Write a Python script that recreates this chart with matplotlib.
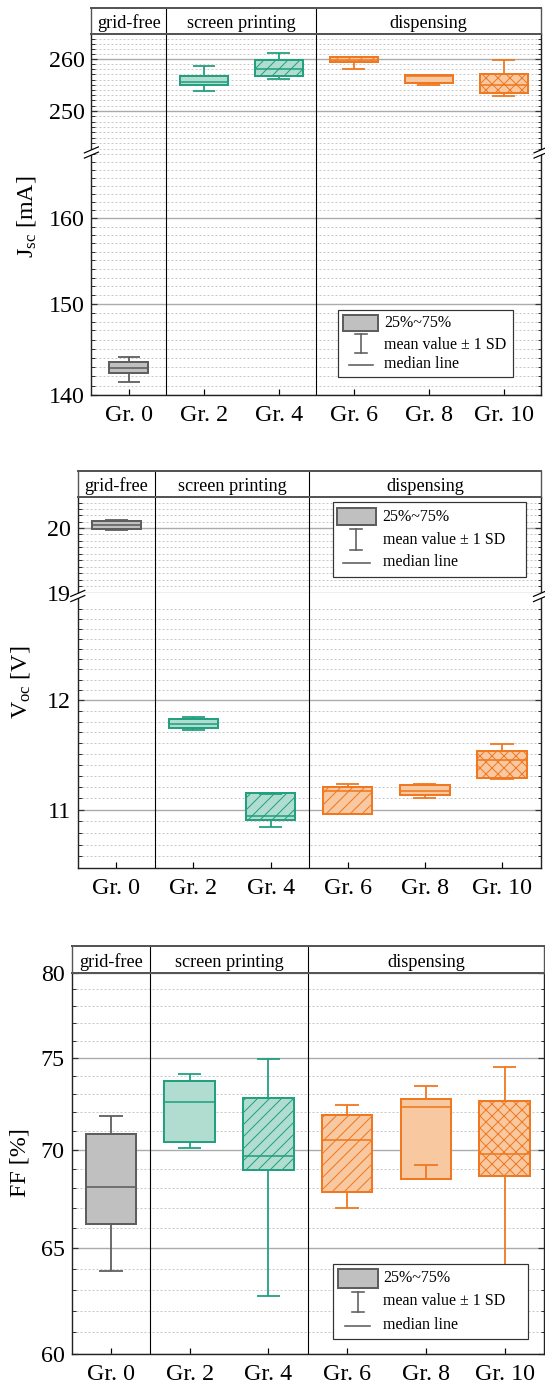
import matplotlib
matplotlib.use('Agg')
import matplotlib.pyplot as plt
from matplotlib.ticker import FixedLocator, FuncFormatter, NullFormatter
from matplotlib.patches import Rectangle, Polygon
import numpy as np

plt.rcParams['font.family'] = ['Liberation Serif', 'DejaVu Serif']
plt.rcParams['mathtext.fontset'] = 'custom'
plt.rcParams['mathtext.rm'] = 'Liberation Serif'
plt.rcParams['mathtext.it'] = 'Liberation Serif:italic'
plt.rcParams['hatch.linewidth'] = 1.0

# ---------------- data ----------------
groups = ['Gr. 0', 'Gr. 2', 'Gr. 4', 'Gr. 6', 'Gr. 8', 'Gr. 10']
sections = ['grid-free', 'screen printing', 'dispensing']
legend_labels = ['25%~75%', 'mean value \u00b1 1 SD', 'median line']

# Jsc [mA]
jsc_q1 = [142.4, 254.9, 256.6, 259.4, 255.3, 253.5]
jsc_med = [142.9, 255.5, 258.1, 259.8, 256.6, 254.9]
jsc_q3 = [143.5, 256.6, 259.7, 260.3, 256.8, 257.0]
jsc_lo = [141.4, 253.7, 256.1, 258.0, 255.0, 252.9]
jsc_hi = [144.1, 258.7, 261.2, 260.4, 256.8, 259.8]

# Voc [V]
voc_q1 = [19.99, 11.74, 10.91, 10.96, 11.127, 11.28]
voc_med = [20.04, 11.78, 10.95, 11.17, 11.162, 11.44]
voc_q3 = [20.105, 11.82, 11.15, 11.20, 11.216, 11.53]
voc_lo = [19.97, 11.72, 10.85, 10.96, 11.106, 11.27]
voc_hi = [20.13, 11.84, 11.14, 11.23, 11.225, 11.59]

# FF [%]
ff_q1 = [66.20, 70.39, 68.96, 67.83, 68.49, 68.62]
ff_med = [68.06, 72.58, 69.66, 70.51, 72.32, 69.76]
ff_q3 = [70.85, 73.75, 72.80, 71.88, 72.75, 72.61]
ff_lo = [63.91, 70.09, 62.68, 67.02, 69.21, 63.0]
ff_hi = [71.83, 74.14, 74.97, 72.42, 73.47, 74.51]

# ---------------- style ----------------
GRAY_E, GRAY_F = '#5e5e5e', '#c0c0c0'
TEAL_E, TEAL_F = '#22a080', '#b0ddd0'
ORNG_E, ORNG_F = '#f07820', '#f8c8a0'
edges = [GRAY_E, TEAL_E, TEAL_E, ORNG_E, ORNG_E, ORNG_E]
fills = [GRAY_F, TEAL_F, TEAL_F, ORNG_F, ORNG_F, ORNG_F]
hatches = [None, None, '//', '//', None, 'xx']
BOX_W = 0.64
CAP_W = 0.30
TICK_FS = 24
HEAD_FS = 18.3
LEG_FS = 16

W, H, DPI = 545, 1392, 72
fig = plt.figure(figsize=(W / DPI, H / DPI), dpi=DPI)


def px_axes(l, t, r, b, **kw):
    return fig.add_axes([l / W, 1 - b / H, (r - l) / W, (b - t) / H], **kw)


def fmt(v, p):
    return f'{v:g}'


def style_plot(ax, ylim, majors, minors, show_x, top_spine=True, bottom_spine=True):
    ax.set_yscale('log')
    ax.set_xlim(-0.5, 5.5)
    ax.set_ylim(*ylim)
    ax.yaxis.set_major_locator(FixedLocator(majors))
    ax.yaxis.set_major_formatter(FuncFormatter(fmt))
    ax.yaxis.set_minor_locator(FixedLocator(minors))
    ax.yaxis.set_minor_formatter(NullFormatter())
    ax.set_xticks(range(len(groups)))
    if show_x:
        ax.set_xticklabels(groups, fontsize=TICK_FS)
        ax.tick_params(axis='x', direction='in', length=6, width=1.2, pad=10, bottom=True, top=False)
    else:
        ax.tick_params(axis='x', bottom=False, top=False, labelbottom=False)
    ax.tick_params(axis='y', which='major', direction='in', length=6, width=1.2,
                   left=True, right=True, labelsize=TICK_FS, pad=7, color='#333333')
    ax.tick_params(axis='y', which='minor', direction='in', length=3.5, width=1.0,
                   left=True, right=True, color='#333333')
    ax.yaxis.grid(True, which='major', color='#ababab', lw=1.4, ls='-', zorder=0.5)
    ax.yaxis.grid(True, which='minor', color='#c8c8c8', lw=1.0, ls=(0, (2, 2)), zorder=0.5)
    ax.set_axisbelow(True)
    for s in ['left', 'right', 'bottom']:
        ax.spines[s].set_color('#222222')
        ax.spines[s].set_linewidth(1.4)
    ax.spines['top'].set_color('#555555')
    ax.spines['top'].set_linewidth(2.0)
    ax.spines['top'].set_visible(top_spine)
    ax.spines['bottom'].set_visible(bottom_spine)
    for xv in (0.5, 2.5):
        ax.axvline(xv, color='black', lw=1.1, zorder=1)


def draw_boxes(ax, q1, med, q3, lo, hi, widths):
    x = np.arange(len(groups))
    w = np.array(widths)
    for i in range(len(groups)):
        ax.bar(x[i], q3[i] - q1[i], bottom=q1[i], width=w[i], color=fills[i],
               edgecolor=edges[i], hatch=hatches[i], linewidth=2.0, zorder=3)
    ax.hlines(med, x - w / 2, x + w / 2, colors=edges, lw=1.6, zorder=4)
    ax.vlines(x, q3, hi, colors=edges, lw=1.8, zorder=4)
    ax.vlines(x, q1, lo, colors=edges, lw=1.8, zorder=4)
    ax.hlines(hi, x - CAP_W / 2, x + CAP_W / 2, colors=edges, lw=1.8, zorder=4)
    ax.hlines(lo, x - CAP_W / 2, x + CAP_W / 2, colors=edges, lw=1.8, zorder=4)


def header(l, t, r, b):
    hx = px_axes(l, t, r, b)
    hx.set_xlim(-0.5, 5.5)
    hx.set_ylim(0, 1)
    hx.set_xticks([])
    hx.set_yticks([])
    for s in hx.spines.values():
        s.set_color('#555555')
        s.set_linewidth(1.4)
    hx.spines['bottom'].set_linewidth(2.0)
    hx.spines['top'].set_linewidth(2.0)
    for xv in (0.5, 2.5):
        hx.axvline(xv, color='black', lw=1.1)
    for xc, txt in zip([0, 1.5, 4.0], sections):
        hx.text(xc, 0.22, txt, ha='center', va='baseline', fontsize=HEAD_FS)
    return hx


def ylabel(x, y, txt):
    fig.text(x / W, 1 - y / H, txt, rotation=90, ha='center', va='center', fontsize=TICK_FS)


# ---------------- panel 1: Jsc ----------------
L1, R1 = 91.4, 541.0
header(L1, 8.3, R1, 33.7)
a1u = px_axes(L1, 33.7, R1, 150.8)
style_plot(a1u, (242.6, 265.0), [250, 260], list(range(243, 265)), False, True, False)
draw_boxes(a1u, jsc_q1, jsc_med, jsc_q3, jsc_lo, jsc_hi, [0.52] + [BOX_W] * 5)
a1l = px_axes(L1, 150.8, R1, 395.0)
style_plot(a1l, (140.0, 168.4), [140, 150, 160], list(range(141, 169)), True, False, True)
draw_boxes(a1l, jsc_q1, jsc_med, jsc_q3, jsc_lo, jsc_hi, [0.52] + [BOX_W] * 5)
ylabel(26, 217, r'J$_{\rm sc}$ [mA]')

# ---------------- panel 2: Voc ----------------
L2, R2 = 77.8, 540.5
header(L2, 470.7, R2, 496.7)
a2u = px_axes(L2, 496.7, R2, 593.0)
style_plot(a2u, (19.0, 20.5), [19, 20], [round(19 + 0.1 * k, 1) for k in range(1, 15)], False, True, False)
draw_boxes(a2u, voc_q1, voc_med, voc_q3, voc_lo, voc_hi, [BOX_W] * 6)
a2l = px_axes(L2, 593.0, R2, 868.3)
style_plot(a2l, (10.5, 13.07), [11, 12], [round(10.5 + 0.1 * k, 1) for k in range(1, 25)], True, False, True)
draw_boxes(a2l, voc_q1, voc_med, voc_q3, voc_lo, voc_hi, [BOX_W] * 6)
ylabel(20, 682, r'V$_{\rm oc}$ [V]')

# ---------------- panel 3: FF ----------------
L3, R3 = 71.5, 544.0
header(L3, 945.7, R3, 972.7)
a3 = px_axes(L3, 972.7, R3, 1354.3)
style_plot(a3, (60.0, 80.0), [60, 65, 70, 75, 80], list(range(61, 80)), True, True, True)
draw_boxes(a3, ff_q1, ff_med, ff_q3, ff_lo, ff_hi, [BOX_W] * 6)
ylabel(20, 1163, 'FF [%]')

# ---------------- overlay: legends and axis breaks ----------------
ov = px_axes(0, 0, W, H, zorder=20)
ov.set_xlim(0, W)
ov.set_ylim(H, 0)
ov.axis('off')


def brk(x, y):
    dx, dy, g = 7, 3, 2.6
    ov.add_patch(Polygon([(x - dx, y + dy + g), (x + dx, y - dy + g), (x + dx, y - dy - g), (x - dx, y + dy - g)],
                         closed=True, facecolor='white', edgecolor='none'))
    ov.plot([x - dx, x + dx], [y + dy + g, y - dy + g], color='black', lw=1.2)
    ov.plot([x - dx, x + dx], [y + dy - g, y - dy - g], color='black', lw=1.2)


brk(L1, 152.5)
brk(R1, 152.5)
brk(L2, 596)
brk(R2, 596)


def legend(box, patch, tx, ty, ebx, eb, med):
    bl, bt, br, bb = box
    ov.add_patch(Rectangle((bl, bt), br - bl, bb - bt, facecolor='white', edgecolor='#333333', lw=1.2))
    pl, pt, pr, pb = patch
    ov.add_patch(Rectangle((pl, pt), pr - pl, pb - pt, facecolor=GRAY_F, edgecolor=GRAY_E, lw=2.0))
    ov.plot([ebx, ebx], eb, color=GRAY_E, lw=1.6)
    ov.plot([ebx - 6, ebx + 6], [eb[0], eb[0]], color=GRAY_E, lw=1.6)
    ov.plot([ebx - 6, ebx + 6], [eb[1], eb[1]], color=GRAY_E, lw=1.6)
    ov.plot(med[:2], [med[2], med[2]], color=GRAY_E, lw=1.6)
    for yy, lab in zip(ty, legend_labels):
        ov.text(tx, yy, lab, ha='left', va='center', fontsize=LEG_FS)


legend((338.2, 309.7, 513.4, 377.3), (343.4, 315.0, 378.2, 331.0), 384.1,
       [323.0, 344.7, 364.3], 361.1, (334.3, 352.7), (348.6, 373.0, 365.3))
legend((332.6, 502.3, 525.9, 577.3), (336.8, 507.7, 376.4, 525.3), 382.7,
       [517.3, 540.0, 562.3], 356.3, (529.3, 550.0), (343.4, 369.5, 563.3))
legend((333.0, 1264.3, 528.0, 1339.3), (337.9, 1269.3, 377.5, 1287.7), 383.4,
       [1278.0, 1301.0, 1324.7], 357.7, (1291.7, 1312.3), (345.2, 370.2, 1325.7))

fig.savefig('out.png', dpi=DPI)
